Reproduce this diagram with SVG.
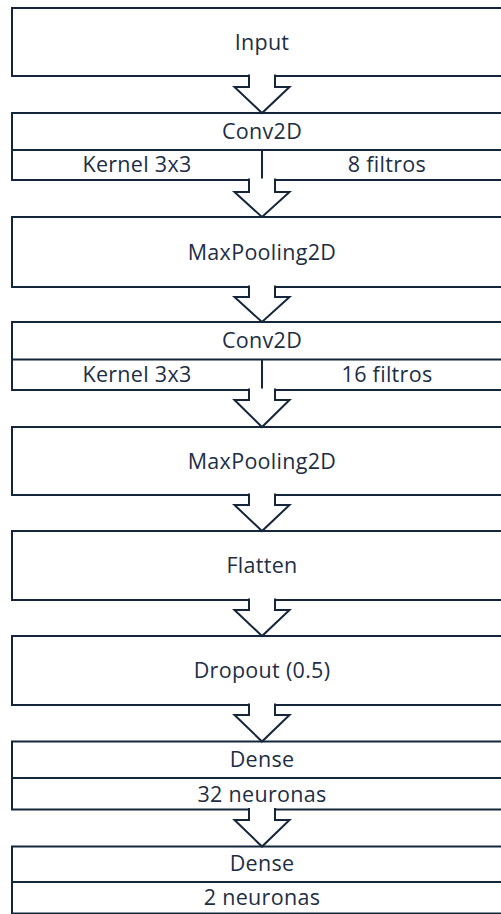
<svg xmlns="http://www.w3.org/2000/svg" width="501" height="914" viewBox="0 0 501 914">
  <style>
    .box { fill: #ffffff; stroke: #15263b; stroke-width: 2; }
    .sep { fill: none; stroke: #15263b; stroke-width: 2; }
    .arrow { fill: #ffffff; stroke: #15263b; stroke-width: 2; stroke-linejoin: miter; }
    text { font-family: "Open Sans", "Liberation Sans", sans-serif; font-size: 21.5px; letter-spacing: 0.3px; fill: #1d2e44; text-anchor: middle; }
  </style>
  <rect width="501" height="914" fill="#ffffff"/>

  <!-- layer boxes -->
  <g id="input">
    <rect class="box" x="12" y="8" width="500" height="68"/>
    <text x="262" y="49.5">Input</text>
  </g>
  <g id="conv2d-1">
    <rect class="box" x="12" y="113" width="500" height="67"/>
    <line class="sep" x1="12" y1="150" x2="512" y2="150"/>
    <line class="sep" x1="262" y1="150" x2="262" y2="180"/>
    <text x="262" y="138.5">Conv2D</text>
    <text x="137" y="172">Kernel 3x3</text>
    <text x="387" y="172">8 filtros</text>
  </g>
  <g id="maxpool-1">
    <rect class="box" x="12" y="217" width="500" height="70"/>
    <text x="262" y="259.5">MaxPooling2D</text>
  </g>
  <g id="conv2d-2">
    <rect class="box" x="12" y="322" width="500" height="68"/>
    <line class="sep" x1="12" y1="359.5" x2="512" y2="359.5"/>
    <line class="sep" x1="262" y1="359.5" x2="262" y2="390"/>
    <text x="262" y="347.5">Conv2D</text>
    <text x="137" y="381.5">Kernel 3x3</text>
    <text x="387" y="381.5">16 filtros</text>
  </g>
  <g id="maxpool-2">
    <rect class="box" x="12" y="427" width="500" height="68"/>
    <text x="262" y="468.5">MaxPooling2D</text>
  </g>
  <g id="flatten">
    <rect class="box" x="12" y="531" width="500" height="69"/>
    <text x="262" y="573">Flatten</text>
  </g>
  <g id="dropout">
    <rect class="box" x="12" y="636" width="500" height="69"/>
    <text x="262" y="678" letter-spacing="0">Dropout (0.5)</text>
  </g>
  <g id="dense-1">
    <rect class="box" x="12" y="741.5" width="500" height="68"/>
    <line class="sep" x1="12" y1="778" x2="512" y2="778"/>
    <text x="262" y="767">Dense</text>
    <text x="262" y="801.5">32 neuronas</text>
  </g>
  <g id="dense-2">
    <rect class="box" x="12" y="846.5" width="500" height="67"/>
    <line class="sep" x1="12" y1="882" x2="512" y2="882"/>
    <text x="262" y="871">Dense</text>
    <text x="262" y="905">2 neuronas</text>
  </g>

  <!-- block arrows between layers -->
  <g id="connectors">
    <path class="arrow" d="M249,74.5 V87 H234.5 L262,113 L289.5,87 H275 V74.5"/>
    <path class="arrow" d="M249,178.5 V192 H234.5 L262,217 L289.5,192 H275 V178.5"/>
    <path class="arrow" d="M249,285.5 V297 H234.5 L262,322 L289.5,297 H275 V285.5"/>
    <path class="arrow" d="M249,388.5 V400 H234.5 L262,427 L289.5,400 H275 V388.5"/>
    <path class="arrow" d="M249,493.5 V505 H234.5 L262,531 L289.5,505 H275 V493.5"/>
    <path class="arrow" d="M249,598.5 V610 H234.5 L262,636 L289.5,610 H275 V598.5"/>
    <path class="arrow" d="M249,703.5 V715 H234.5 L262,741.5 L289.5,715 H275 V703.5"/>
    <path class="arrow" d="M249,808 V820 H234.5 L262,846.5 L289.5,820 H275 V808"/>
  </g>
</svg>
